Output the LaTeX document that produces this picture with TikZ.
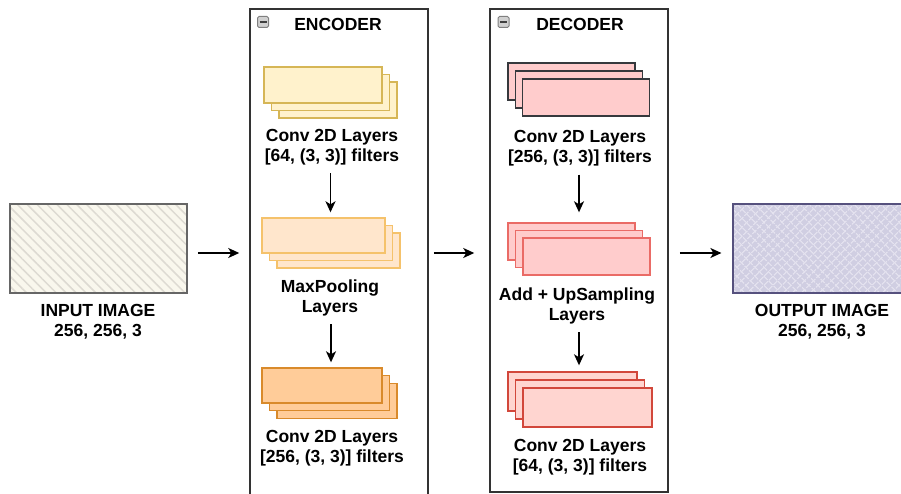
\documentclass[tikz,border=0pt]{standalone}
\usepackage{fontspec}
\setmainfont{Liberation Sans}
\usetikzlibrary{arrows.meta,patterns.meta}
\definecolor{inFill}{HTML}{F9F7ED}
\definecolor{inLine}{HTML}{666666}
\definecolor{inHatch}{HTML}{DDDAD2}
\definecolor{outFill}{HTML}{D0CEE2}
\definecolor{outLine}{HTML}{56517E}
\definecolor{outHatch}{HTML}{E4E2EF}
\definecolor{convFill}{HTML}{FFF2CC}
\definecolor{convLine}{HTML}{D6B656}
\definecolor{poolFill}{HTML}{FFE6CC}
\definecolor{poolLine}{HTML}{F5C26B}
\definecolor{deepFill}{HTML}{FFCC99}
\definecolor{deepLine}{HTML}{D98A2B}
\definecolor{upFill}{HTML}{FFCCCC}
\definecolor{upLine}{HTML}{EA6B66}
\definecolor{outcFill}{HTML}{FFD5D0}
\definecolor{outcLine}{HTML}{D2473B}
\definecolor{darkLine}{HTML}{36393D}
\begin{document}
\begin{tikzpicture}
    [x=1pt,y=-1pt,
    every node/.style={font=\fontsize{17.5}{20}\selectfont\bfseries},
    lay/.style={draw,line width=1.4pt,inner sep=0pt},
    lane/.style={draw=black!80,line width=1.5pt,inner sep=0pt},
    minusbox/.style={draw=black!50,fill=black!18,rounded corners=1.5pt,line width=1pt,inner sep=0pt,minimum size=11},
    arr/.style={line width=1.6pt,-{Stealth[length=11pt,width=10pt,inset=3pt]}},
    lbl/.style={align=center,inner sep=0pt}]
    \useasboundingbox (0,0) rectangle (901,494);
    \clip (0,0) rectangle (901,494);
    %images
    \node[lay,draw=inLine,minimum width=177,minimum height=89,
      preaction={fill=inFill},
      pattern={Lines[angle=-45,distance=7pt,line width=1.5pt]},pattern color=inHatch] (inimg) at (98.5,248.5) {};
    \node[lbl] (intxt) at (98,322) {INPUT IMAGE\\256, 256, 3};
    \node[lay,draw=outLine,minimum width=178,minimum height=89,
      preaction={fill=outFill},
      preaction={pattern={Lines[angle=45,distance=6.5pt,line width=1.2pt]},pattern color=outHatch},
      pattern={Lines[angle=-45,distance=6.5pt,line width=1.2pt]},pattern color=outHatch] (outimg) at (822,248.5) {};
    \node[lbl] (outtxt) at (822,322) {OUTPUT IMAGE\\256, 256, 3};
    %lanes
    \node[lane,minimum width=178,minimum height=494] (enc) at (339,256) {};
    \node[lane,minimum width=178,minimum height=483] (dec) at (579,250.5) {};
    \node[minusbox] (encmin) at (263,22) {};
    \draw[line width=1.6pt,black!75] ([xshift=2.5pt]encmin.west) -- ([xshift=-2.5pt]encmin.east);
    \node (enctitle) at (338,24) {ENCODER};
    \node[minusbox] (decmin) at (503.5,22) {};
    \draw[line width=1.6pt,black!75] ([xshift=2.5pt]decmin.west) -- ([xshift=-2.5pt]decmin.east);
    \node (dectitle) at (580,24) {DECODER};
    %encoder stacks
    \node[lay,draw=convLine,fill=convFill,minimum width=118,minimum height=36] (ec3) at (338,100) {};
    \node[lay,draw=convLine,fill=convFill,minimum width=118,minimum height=36] (ec2) at (330.5,92.5) {};
    \node[lay,draw=convLine,fill=convFill,minimum width=118,minimum height=36] (ec1) at (323,85) {};
    \node[lbl] (ectxt) at (332,147) {Conv 2D Layers\\{[64, (3, 3)] filters}};
    \node[lay,draw=poolLine,fill=poolFill,minimum width=123,minimum height=35] (ep3) at (338.5,250.5) {};
    \node[lay,draw=poolLine,fill=poolFill,minimum width=123,minimum height=35] (ep2) at (331,243) {};
    \node[lay,draw=poolLine,fill=poolFill,minimum width=123,minimum height=35] (ep1) at (323.5,235.5) {};
    \node[lbl] (eptxt) at (330,298) {MaxPooling\\Layers};
    \node[lay,draw=deepLine,fill=deepFill,minimum width=120,minimum height=35] (ed3) at (337,401) {};
    \node[lay,draw=deepLine,fill=deepFill,minimum width=120,minimum height=35] (ed2) at (329.5,393) {};
    \node[lay,draw=deepLine,fill=deepFill,minimum width=120,minimum height=35] (ed1) at (322,385.5) {};
    \node[lbl] (edtxt) at (332,448) {Conv 2D Layers\\{[256, (3, 3)] filters}};
    %decoder stacks
    \node[lay,draw=darkLine,fill=upFill,minimum width=127,minimum height=37] (dc1) at (571.5,81.5) {};
    \node[lay,draw=darkLine,fill=upFill,minimum width=127,minimum height=37] (dc2) at (579,89.5) {};
    \node[lay,draw=darkLine,fill=upFill,minimum width=127,minimum height=37] (dc3) at (586,97.5) {};
    \node[lbl] (dctxt) at (580,148.5) {Conv 2D Layers\\{[256, (3, 3)] filters}};
    \node[lay,draw=upLine,fill=upFill,minimum width=127,minimum height=37] (du1) at (571.5,241.5) {};
    \node[lay,draw=upLine,fill=upFill,minimum width=127,minimum height=37] (du2) at (579,249) {};
    \node[lay,draw=upLine,fill=upFill,minimum width=127,minimum height=37] (du3) at (586.5,256.5) {};
    \node[lbl] (dutxt) at (577,306) {Add + UpSampling\\Layers};
    \node[lay,draw=outcLine,fill=outcFill,minimum width=129,minimum height=39] (do1) at (572.5,391.5) {};
    \node[lay,draw=outcLine,fill=outcFill,minimum width=129,minimum height=39] (do2) at (580,399.5) {};
    \node[lay,draw=outcLine,fill=outcFill,minimum width=129,minimum height=39] (do3) at (587.5,407.5) {};
    \node[lbl] (dotxt) at (580,457) {Conv 2D Layers\\{[64, (3, 3)] filters}};
    %arrows
    \coordinate (flow) at (0,253);
    \draw[arr,shorten <=10pt,shorten >=10pt] (inimg.east |- flow) -- (enc.west |- flow);
    \draw[arr,shorten <=5pt,shorten >=15pt] (enc.east |- flow) -- (dec.west |- flow);
    \draw[arr,shorten <=11pt,shorten >=11pt] (dec.east |- flow) -- (outimg.west |- flow);
    \draw[arr,shorten <=8pt,shorten >=5pt] (ec2 |- ectxt.south) -- (ec2 |- ep1.north);
    \draw[arr,shorten <=8pt,shorten >=5pt] (ep2 |- eptxt.south) -- (ep2 |- ed1.north);
    \draw[arr,shorten <=8pt,shorten >=10pt] (dc2 |- dctxt.south) -- (dc2 |- du1.north);
    \draw[arr,shorten <=8pt,shorten >=6pt] (du2 |- dutxt.south) -- (du2 |- do1.north);
\end{tikzpicture}
\end{document}
